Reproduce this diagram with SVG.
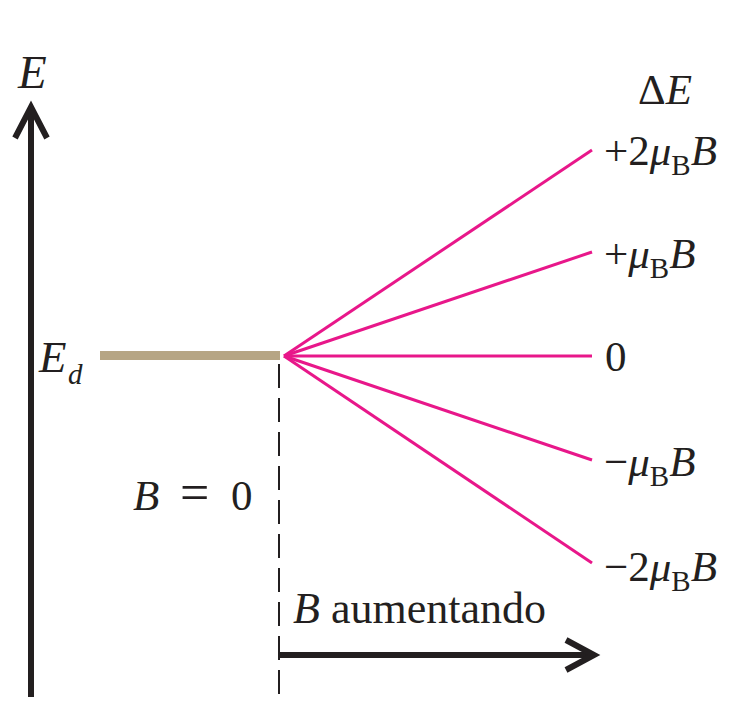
<svg xmlns="http://www.w3.org/2000/svg" width="743" height="704" viewBox="0 0 743 704">
<style>
text{font-family:"Liberation Serif","Times New Roman",serif;fill:#231f20;font-size:43px}
.i{font-style:italic}
.sub{font-size:29px}
.axis{stroke:#231f20;stroke-width:6;fill:none}
.head{stroke:#231f20;stroke-width:6;fill:none;stroke-linejoin:miter}
.fan{stroke:#e8178a;stroke-width:3;fill:none}
</style>
<rect width="743" height="704" fill="#fff"/>
<g id="energy-axis">
<line class="axis" x1="31" y1="108" x2="31" y2="697"/>
<polyline class="head" points="15,138 31,107 47,138"/>
<text class="i" x="18" y="88" style="font-size:47px">E</text>
</g>
<g id="level-Ed">
<rect x="100" y="351" width="180" height="9" fill="#b6a584"/>
<text class="i" x="39" y="372" style="font-size:45px">E</text>
<text class="i sub" x="68" y="384">d</text>
</g>
<g id="b-zero">
<line x1="279" y1="364" x2="279" y2="704" stroke="#231f20" stroke-width="2" stroke-dasharray="24 10"/>
<text y="510"><tspan class="i" x="133">B</tspan><tspan x="180" style="font-size:52px">=</tspan><tspan x="231">0</tspan></text>
</g>
<g id="b-axis">
<line class="axis" x1="279" y1="655" x2="592" y2="655"/>
<polyline class="head" points="566,640 594,655 566,670"/>
<text x="293" y="623" style="font-size:44px"><tspan class="i">B</tspan> aumentando</text>
</g>
<g id="connectors">
<line class="fan" x1="284" y1="356" x2="592" y2="150"/>
<line class="fan" x1="284" y1="356" x2="592" y2="252"/>
<line class="fan" x1="284" y1="356" x2="592" y2="356"/>
<line class="fan" x1="284" y1="356" x2="592" y2="460"/>
<line class="fan" x1="284" y1="356" x2="592" y2="563"/>
</g>
<g id="labels">
<text x="638" y="104">Δ<tspan class="i">E</tspan></text>
<text x="604" y="165">+2<tspan class="i">μ</tspan><tspan class="sub" dy="10">B</tspan><tspan class="i" dy="-10">B</tspan></text>
<text x="604" y="268">+<tspan class="i">μ</tspan><tspan class="sub" dy="10">B</tspan><tspan class="i" dy="-10">B</tspan></text>
<text x="605" y="371">0</text>
<text x="604" y="476">−<tspan class="i">μ</tspan><tspan class="sub" dy="10">B</tspan><tspan class="i" dy="-10">B</tspan></text>
<text x="604" y="581">−2<tspan class="i">μ</tspan><tspan class="sub" dy="10">B</tspan><tspan class="i" dy="-10">B</tspan></text>
</g>
</svg>
